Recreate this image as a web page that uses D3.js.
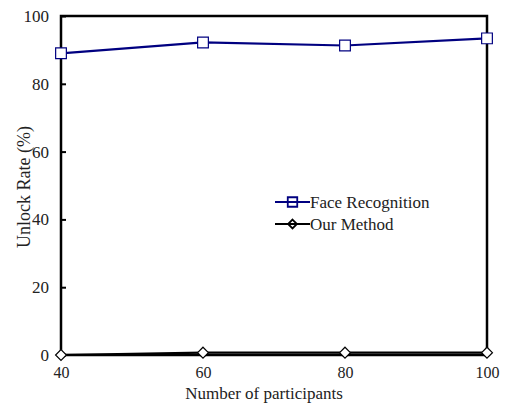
<!DOCTYPE html>
<html>
<head>
<meta charset="utf-8">
<script src="https://cdn.jsdelivr.net/npm/d3@7"></script>
<style>
  body { margin: 0; background: #fff; }
</style>
</head>
<body>
<svg id="chart"></svg>
<script>
var width = 506, height = 404;
var serif = "'Liberation Serif'";

// data
var participants = [40, 60, 80, 100];
var faceRecognition = [89, 92.2, 91.3, 93.4];
var ourMethod = [0, 0.7, 0.7, 0.7];
var xTicks = [40, 60, 80, 100];
var yTicks = [0, 20, 40, 60, 80, 100];

var margin = {top: 16, right: 19, bottom: 49, left: 61};

var svg = d3.select("#chart")
  .attr("width", width)
  .attr("height", height);

var x = d3.scaleLinear().domain([40, 100]).range([margin.left, width - margin.right]);
var y = d3.scaleLinear().domain([0, 100]).range([height - margin.bottom, margin.top]);

function styleText(sel) {
  sel.attr("font-family", null).style("font-family", serif).style("font-size", "16px").attr("fill", "#222");
}

// y axis ticks (inward) + labels
var yAxis = d3.axisLeft(y).tickValues(yTicks).tickSize(-5).tickPadding(12);
var gy = svg.append("g").attr("transform", "translate(" + margin.left + ",0)").call(yAxis);
gy.attr("font-family", null);
gy.select(".domain").remove();
gy.selectAll("line").attr("stroke", "#000").attr("stroke-width", 2);
gy.selectAll("text").call(styleText).style("font-size", "17px");

var xAxis = d3.axisBottom(x).tickValues(xTicks).tickSize(0).tickPadding(12);
var gx = svg.append("g").attr("transform", "translate(0," + y(0) + ")").call(xAxis);
gx.attr("font-family", null);
gx.select(".domain").remove();
gx.selectAll("text").call(styleText);

// frame
svg.append("rect")
  .attr("x", margin.left)
  .attr("y", margin.top)
  .attr("width", width - margin.left - margin.right)
  .attr("height", height - margin.top - margin.bottom)
  .attr("fill", "none")
  .attr("stroke", "#000")
  .attr("stroke-width", 2.5);

var series = [
  {name: "Face Recognition", values: faceRecognition, color: "#000080", marker: d3.symbolSquare, size: 115},
  {name: "Our Method", values: ourMethod, color: "#000", marker: d3.symbolDiamond2, size: 75}
];

var line = d3.line()
  .x(function(d){ return x(d.x); })
  .y(function(d){ return y(d.y); });

series.forEach(function(s){
  var pts = participants.map(function(p, i){ return {x: p, y: s.values[i]}; });
  svg.append("path")
    .datum(pts)
    .attr("d", line)
    .attr("fill", "none")
    .attr("stroke", s.color)
    .attr("stroke-width", 2.2);
  svg.selectAll(null)
    .data(pts)
    .enter()
    .append("path")
    .attr("d", d3.symbol().type(s.marker).size(s.size))
    .attr("transform", function(d){ return "translate(" + x(d.x) + "," + y(d.y) + ")"; })
    .attr("fill", "#fff")
    .attr("stroke", s.color)
    .attr("stroke-width", 1.2);
});

// legend
var legend = svg.append("g").attr("transform", "translate(275,202)");
series.forEach(function(s, i){
  var g = legend.append("g").attr("transform", "translate(0," + (i * 22) + ")");
  g.append("line")
    .attr("x1", 0).attr("x2", 35)
    .attr("stroke", s.color).attr("stroke-width", 2.2);
  g.append("path")
    .attr("d", d3.symbol().type(s.marker).size(s.marker === d3.symbolSquare ? 90 : 50))
    .attr("transform", "translate(17.5,0)")
    .attr("fill", "none")
    .attr("stroke", s.color)
    .attr("stroke-width", 1.8);
  g.append("text")
    .attr("x", 35)
    .attr("dy", "0.33em")
    .call(styleText)
    .style("font-size", "17px")
    .text(s.name);
});

// axis titles
svg.append("text")
  .attr("x", (margin.left + width - margin.right) / 2 - 10)
  .attr("y", 399)
  .attr("text-anchor", "middle")
  .call(styleText)
  .style("font-size", "17px")
  .text("Number of participants");

svg.append("text")
  .attr("transform", "translate(30,187) rotate(-90)")
  .attr("text-anchor", "middle")
  .call(styleText)
  .style("font-size", "18px")
  .text("Unlock Rate (%)");
</script>
</body>
</html>
